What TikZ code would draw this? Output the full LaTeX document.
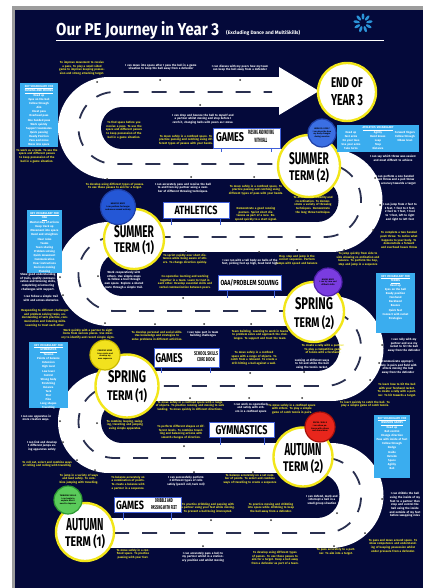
\documentclass[tikz,border=0pt]{standalone}
\usepackage{fontspec}
\setmainfont{Fira Sans}
\usepackage{graphicx}
\definecolor{navy}{HTML}{04093A}
\definecolor{ytext}{HTML}{EEE62E}
\definecolor{vocab}{HTML}{3AADEF}
\definecolor{lblue}{HTML}{3F5FD8}
\definecolor{dashc}{HTML}{2A3050}
\definecolor{ring}{HTML}{F2E619}
\definecolor{framec}{HTML}{9C9C9C}
\definecolor{logoc}{HTML}{2B93D8}
\definecolor{bblue}{HTML}{3B6FE3}
\definecolor{bblueD}{HTML}{1E3FA6}
\definecolor{bblue2}{HTML}{2457D6}
\definecolor{bpurple}{HTML}{7A3CE0}
\definecolor{bpurpleD}{HTML}{4E1FA8}
\definecolor{byellow}{HTML}{F2E21E}
\definecolor{byellowD}{HTML}{C9B800}
\definecolor{bred}{HTML}{E8261C}
\definecolor{bredD}{HTML}{A8120A}
\definecolor{bgreen}{HTML}{5ACB5A}
\definecolor{bgreenD}{HTML}{2E9A33}
\newcommand\tsz{\fontsize{2.9}{3.7}\selectfont\bfseries}
\newcommand\vsz{\fontsize{2.8}{4.1}\selectfont\bfseries}
\newcommand\bsz{\fontsize{2.1}{2.7}\selectfont\bfseries}
\newcommand\fitt[3]{\resizebox{#1pt}{#2pt}{\bfseries #3}}
\newcommand\fitsub[3]{\resizebox{#1pt}{#2pt}{\bfseries\begin{tabular}{@{}c@{}}#3\end{tabular}}}
\tikzset{
  yt/.style={text=ytext,font=\tsz,align=center,inner sep=0pt,text width=#1pt},
  wt/.style={text=white,font=\tsz,align=center,inner sep=0pt,text width=#1pt},
  vt/.style={text=white,font=\vsz,align=center,inner sep=0pt,text width=#1pt,anchor=north},
  vbox/.style={fill=vocab,inner sep=0pt,anchor=north west},
  termc/.style={circle,fill=white,draw=ring,line width=2.4pt,inner sep=0pt,minimum size=#1},
  termt/.style={anchor=base,inner sep=0pt,text=black},
  lbl/.style={draw=lblue,fill=white,line width=1.4pt,inner sep=0pt,anchor=north west},
  postline/.style={draw=lblue,line width=0.9pt},
  badge/.style={circle,line width=1.2pt,inner sep=0pt,minimum size=#1},
  bt/.style={text=black,font=\bsz,align=center,inner sep=0pt,text width=#1pt},
  rdot/.style={fill=black!80},
}
\begin{document}
\begin{tikzpicture}[x=1pt,y=-1pt]
\useasboundingbox (0,0) rectangle (423,588);
\fill[white] (0,0) rectangle (423,588);
\fill[framec] (12,6) rectangle (423,588);
\fill[navy] (15,10) rectangle (423,588);

% ---------- road: straights ----------
\fill[white] (109,77) rectangle (282,107);
\fill[white] (109,149) rectangle (331,179);
\fill[white] (109,222) rectangle (331,252);
\fill[white] (109,296) rectangle (331,326);
\fill[white] (109,371) rectangle (331,401);
\fill[white] (109,443) rectangle (331,473);
\fill[white] (85,518) rectangle (331,548);
% ---------- road: bends ----------
\fill[white] (109,128) circle[radius=51pt];
\fill[white] (331,200.5) circle[radius=51.5pt];
\fill[white] (109,274) circle[radius=52pt];
\fill[white] (331,348.5) circle[radius=52.5pt];
\fill[white] (109,422) circle[radius=51pt];
\fill[white] (331,495.5) circle[radius=52.5pt];
\fill[navy] (122,107) rectangle (317,149);
\fill[navy] (122,128) circle[radius=21pt];
\fill[navy] (122,179) rectangle (317,222);
\fill[navy] (317,200.5) circle[radius=21.5pt];
\fill[navy] (122,252) rectangle (317,296);
\fill[navy] (122,274) circle[radius=22pt];
\fill[navy] (122,326) rectangle (317,371);
\fill[navy] (317,348.5) circle[radius=22.5pt];
\fill[navy] (122,401) rectangle (317,443);
\fill[navy] (122,422) circle[radius=21pt];
\fill[navy] (122,473) rectangle (317,518);
\fill[navy] (317,495.5) circle[radius=22.5pt];
% arrow head
\fill[white] (279,67) -- (319,91) -- (279,115) -- cycle;
% centre dashes
\draw[dashc,line width=1.8pt,dash pattern=on 15pt off 13pt,rounded corners=36pt]
  (114,533) -- (361,533) -- (361,458) -- (78.5,458) -- (78.5,386) -- (361,386)
  -- (361,311) -- (78.5,311) -- (78.5,237) -- (361,237) -- (361,164)
  -- (78.5,164) -- (78.5,92) -- (272,92);
% small pins on the road edges
\foreach \p in {(97,82),(160,80),(240,80),(200,105),(191,177),(254,177),(107,179),
  (186,252),(259,252),(297,250),(344,250),(373,230),(380,205),(375,178),
  (183,298),(155,324),(204,324),(251,324),(98,276),(60,277),(63,295),
  (250,373),(190,398),(249,398),(382,345),(379,363),(370,380),(344,400),(302,398),(304,372),
  (184,446),(105,323),(60,421),(63,442),(97,423),(77,460),(95,470),
  (194,472),(253,472),(211,520),(271,520),(203,546),(382,499),(365,533),(334,546),(337,513)}
  \fill[rdot] \p circle[radius=1pt];

% ---------- title ----------
\node[anchor=base west,inner sep=0pt,text=white] (title) at (56,36) {\fitt{163}{14}{Our PE Journey in Year 3}};
\node[anchor=base west,inner sep=0pt,text=white] (subtitle) at (226,35) {\resizebox{74pt}{!}{\bfseries (Excluding Dance and MultiSkills)}};
\draw[white,line width=1.1pt] (56,40.5) -- (384,40.5);
% logo
\foreach \a in {0,40,...,320}
  \fill[logoc,rotate around={\a:(363,23)}] (363,16.5) ellipse[x radius=1.4pt,y radius=3.2pt];

% ---------- term circles ----------
\node[termc=58pt] (endc) at (347,92) {};
\node[termt] (endl1) at (347,88) {\fitt{32}{10}{END OF}};
\node[termt] (endl2) at (347,106) {\fitt{32}{11}{YEAR 3}};
\node[termc=62pt] (su2) at (309,166) {};
\node[termt] (su2a) at (309,164) {\fitt{40}{12}{SUMMER}};
\node[termt] (su2b) at (309,180) {\fitt{40}{12}{TERM (2)}};
\node[termc=60pt] (su1) at (134,239) {};
\node[termt] (su1a) at (134,237) {\fitt{40}{12}{SUMMER}};
\node[termt] (su1b) at (134,252) {\fitt{40}{12}{TERM (1)}};
\node[termc=60pt] (sp2) at (314,312) {};
\node[termt] (sp2a) at (314,309) {\fitt{38}{12}{SPRING}};
\node[termt] (sp2b) at (314,327) {\fitt{40}{12}{TERM (2)}};
\node[termc=63pt] (sp1) at (127,386) {};
\node[termt] (sp1a) at (127,382) {\fitt{38}{12}{SPRING}};
\node[termt] (sp1b) at (127,400) {\fitt{40}{12}{TERM (1)}};
\node[termc=59pt] (au2) at (303,457) {};
\node[termt] (au2a) at (303,455) {\fitt{37}{12}{AUTUMN}};
\node[termt] (au2b) at (303,471) {\fitt{40}{12}{TERM (2)}};
\node[termc=58pt] (au1) at (85,532) {};
\node[termt] (au1a) at (85,530) {\fitt{37}{12}{AUTUMN}};
\node[termt] (au1b) at (85,546) {\fitt{40}{12}{TERM (1)}};

% ---------- activity labels ----------
\node[lbl,minimum width=67pt,minimum height=20pt] (g1) at (213,128) {};
\node[termt] (g1t) at (230,142) {\fitt{28}{9}{GAMES}};
\node[inner sep=0pt] (g1s) at (261,137) {\fitsub{26}{9}{PASSING AND MOVING\\WITH BALL}};
\draw[postline] (221,148) -- (221,152);
\draw[postline] (271,148) -- (271,152);
\node[lbl,minimum width=66pt,minimum height=16pt] (ath) at (163,202) {};
\node[termt] (atht) at (196,214.5) {\fitt{43}{8.5}{ATHLETICS}};
\draw[postline] (171,218) -- (171,225);
\draw[postline] (220,218) -- (220,225);
\node[lbl,minimum width=63pt,minimum height=15pt] (oaa) at (218,275) {};
\node[termt] (oaat) at (249.5,285.5) {\fitt{58}{6}{OAA/PROBLEM SOLVING}};
\draw[postline] (227,290) -- (227,298);
\draw[postline] (274,290) -- (274,298);
\node[lbl,minimum width=65pt,minimum height=19pt] (g2) at (154,348) {};
\node[termt] (g2t) at (169,362) {\fitt{27}{9}{GAMES}};
\node[inner sep=0pt] (g2s) at (206,357) {\fitsub{24}{8}{SCHOOL SKILLS\\CORE BOOK}};
\draw[postline] (161,367) -- (161,373);
\draw[postline] (210,367) -- (210,373);
\node[lbl,minimum width=65pt,minimum height=15pt] (gym) at (209,422) {};
\node[termt] (gymt) at (241.5,434) {\fitt{52}{9}{GYMNASTICS}};
\draw[postline] (220,437) -- (220,445);
\draw[postline] (264,437) -- (264,445);
\node[lbl,minimum width=67pt,minimum height=15pt] (g3) at (114,497) {};
\node[termt] (g3t) at (130,509) {\fitt{28}{8.5}{GAMES}};
\node[inner sep=0pt] (g3s) at (164,504.5) {\fitsub{26}{8}{DRIBBLE AND\\PASSING WITH FEET}};
\draw[postline] (123,512) -- (123,520);
\draw[postline] (171,512) -- (171,520);

% ---------- badges ----------
\node[badge=28pt,fill=bblue,draw=bblueD] (b1) at (322,133) {};
\node[bt=21] (b1t) at (322,133) {HOW DO I FEEL?\\ I can describe how my body changes during exercise};
\node[badge=35pt,fill=bblue2,draw=bblueD] (b2) at (118,207) {};
\node[bt=26] (b2t) at (118,207) {HEALTHY BODY\\ I can perform for longer and move around actively};
\node[badge=28pt,fill=bpurple,draw=bpurpleD] (b3) at (328,282) {};
\node[bt=21] (b3t) at (328,282) {BRAVE BODY\\ I can try new and difficult skills};
\node[badge=30pt,fill=byellow,draw=byellowD] (b4) at (105,355) {};
\node[bt=22] (b4t) at (105,355) {CREATIVE MIND\\ I can create and develop my own sequence};
\node[badge=30pt,fill=bred,draw=bredD] (b5) at (320,427) {};
\node[bt=22] (b5t) at (320,427) {SOCIAL SKILLS\\ I can show patience with others and share ideas};
\node[badge=28pt,fill=bgreen,draw=bgreenD] (b6) at (68,500) {};
\node[bt=21] (b6t) at (68,500) {THINKING SKILLS\\ I can begin to explain what I need to improve};

% ---------- vocabulary boxes ----------
\node[vbox,minimum width=38pt,minimum height=64pt] (v1) at (20,83) {};
\node[vt=37] (v1t) at (39,85) {\underline{KEY VOCABULARY FOR}\\\underline{PASSING AND MOVING}\\Head up\\Eyes on the ball\\Follow through\\Aim\\Chest pass\\Overhead pass\\One handed pass\\Work quickly\\Support teammates\\Quick passing\\Ready Position\\Pass and move\\Move into space};
\node[vbox,minimum width=35pt,minimum height=63pt] (v2) at (27,210) {};
\node[vt=34] (v2t) at (44.5,212) {\underline{KEY VOCABULARY FOR}\\\underline{OAA}\\Mental map of actions\\Keep track up\\Movement into space\\Bend and straighten\\Clear rules\\Teams\\Team sharing\\Problem solving\\Quick movement\\Communication\\Clear instructions\\Decision making\\Planning};
\node[vbox,minimum width=39pt,minimum height=66pt] (v3) at (29,342) {};
\node[vt=38] (v3t) at (48.5,344) {\underline{KEY VOCABULARY FOR}\\\underline{GYMNASTICS}\\Tension\\Points of balance\\Extension\\High level\\Low level\\Control\\Strong body\\Stretching\\Balance\\Tuck\\Star\\Pike\\Long shapes\\Travelling};
\node[vbox,minimum width=82pt,minimum height=27pt] (v4) at (337,125) {};
\node[vt=80] (v4h) at (378,126.5) {\underline{ATHLETICS VOCABULARY}};
\node[vt=26] (v4a) at (351,131) {Head up\\Fast arms\\On your toes\\Use your arms\\Take turns};
\node[vt=26] (v4b) at (378,131) {Agility\\Bend knees\\Leap\\Step\\Distance};
\node[vt=26] (v4c) at (405,131) {Forward fingers\\Follow through\\Elbow level};
\node[vbox,minimum width=39pt,minimum height=60pt] (v5) at (376,273) {};
\node[vt=38] (v5t) at (395.5,275) {\underline{KEY VOCABULARY FOR}\\\underline{TENNIS}\\Head up\\Eyes on the ball\\Ready position\\Forehand\\Backhand\\Bounce\\Quick feet\\Connect with racket\\Strategies};
\node[vbox,minimum width=36pt,minimum height=63pt] (v6) at (374,415) {};
\node[vt=35] (v6t) at (392,417) {\underline{KEY VOCABULARY FOR}\\\underline{INVASION GAMES}\\Head up\\Ball control\\Change direction\\Pass with inside of foot\\Follow through\\Dodge\\Inside\\Outside\\Space\\Agility\\Ball};

% ---------- learning texts ----------
\node[yt=50] (t1) at (82,68) {To improve movement to receive a pass. To play a small sided game to improve keeping possession and strong attacking target.};
\node[wt=80] (t2) at (161,67) {I can move into space after I pass the ball in a game situation to keep the ball away from a defender};
\node[wt=58] (t3) at (240,68) {I can discuss with my peers how my team can keep the ball away from a defender};
\node[wt=80] (t4) at (203,119) {I can drop and bounce the ball to myself and a partner whilst moving and stop before I catch it, changing balls with peers as I move.};
\node[yt=44] (t5) at (124,130) {To find space before you receive a pass. To use the space and different passes to keep possession of the ball in a game situation.};
\node[yt=55] (t6) at (186,140) {To move safely in a confined space. To practice passing and catching using different types of passes with your hands.};
\node[yt=44] (t7) at (37,156) {To work as a team. To use the space and different passes to keep possession of the ball in a game situation.};
\node[yt=70] (t8) at (115,186) {To develop using different types of passes. To use these passes to aim for a target.};
\node[wt=62] (t9) at (183,188) {I can accurately pass and receive the ball to and from my partner using a number of different throwing techniques.};
\node[yt=55] (t10) at (256,190) {To move safely in a confined space. To practice passing and catching using different types of pass with your hands.};
\node[yt=52] (t11) at (256,214) {Demonstrate a good running posture. Sprint short distances as part of a race. Respond quickly to a start signal.};
\node[yt=48] (t12) at (313,205) {To demonstrate mobility and co-ordination. To demonstrate a variety of throwing techniques. Demonstrate the long throw technique.};
\node[wt=48] (t13) at (393,158) {I can say which throw was easiest and most difficult to achieve};
\node[wt=48] (t14) at (395,180) {I can perform a one handed push throw and a pull throw with accuracy towards a target};
\node[wt=38] (t15) at (400,212) {I can jump from 2 feet to 2 feet, 1 foot to 2 feet, 2 feet to 1 foot, 1 foot to 1 foot, left to right and right to left foot};
\node[yt=44] (t16) at (399,240) {To complete a two handed push throw. To notice what happens to your body. To demonstrate a forward and overhead heave throw};
\node[yt=46] (t17) at (358,259) {To jump quickly from side to side allowing co-ordination and balance. To perform the hop, step and jump in a sequence};
\node[yt=45] (t18) at (297,260) {Hop, step and jump in the correct sequence. Perform jumps with speed and balance};
\node[wt=58] (t19) at (250,262) {I can run with a tall body on balls of the feet, picking feet up high, head held high};
\node[yt=55] (t20) at (185,259) {To sprint rapidly over short distances while being aware of others. To change direction quickly.};
\node[yt=58] (t21) at (185,282) {Co-operative learning and working together in a team. Learn to trust in each other. Develop essential skills and verbal communication between peers.};
\node[wt=44] (t22) at (124,280) {Work cooperatively with others. Use simple maps to follow a trail through own space. Explore a shared route through a simple trail.};
\node[wt=45] (t23) at (38,282) {Show good understanding of trails, quality communication and listening skills, completing orienteering challenges with support.};
\node[wt=45] (t24) at (41,298) {I can follow a simple trail with and across obstacles};
\node[yt=52] (t25) at (45,318) {Responding to different challenges and problem solving tasks, understanding of safe practice, communication and listening skills. Learning to trust each other.};
\node[yt=62] (t26) at (88,334) {Work quickly with a partner to sight items from various places. Use memory to identify and record simple signs.};
\node[yt=52] (t27) at (157,336) {To develop personal and social skills. Use knowledge and strategies to solve problems in different activities.};
\node[wt=33] (t28) at (203,334) {I can take part in team building challenges};
\node[yt=66] (t29) at (260,335) {Team building. Learning to work in teams to problem solve and approach the challenges. To support and trust the team.};
\node[yt=56] (t30) at (254,358) {To move safely in a confined space with a range of objects. To catch from a rebound. To create a drill hitting a ball against a wall.};
\node[yt=44] (t31) at (323,349) {To create a rally with a partner. To play a competitive game of tennis with a forehand.};
\node[wt=50] (t32) at (312,364) {Looking at different ways to hit and strike the ball using the tennis racket.};
\node[wt=36] (t33) at (404,345) {I can rally with my partner and use my racket to hit the ball away from the defender};
\node[wt=46] (t34) at (398,367) {Communicate appropriately in pairs and field with others moving the ball away from the defender};
\node[yt=48] (t35) at (397,390) {To learn how to hit the ball with your forehand racket. To create a rally with a partner. To hit towards a target.};
\node[yt=55] (t36) at (365,404) {To react quickly to catch the ball. To play a simple game of catch tennis.};
\node[yt=50] (t37) at (292,409) {To move safely in a confined space with others. To play a simple game of catch tennis in pairs.};
\node[wt=42] (t38) at (251,408) {I can work co-operatively and safely with others in a confined space};
\node[yt=75] (t39) at (190,406) {To move safely in a confined space with a range of objects. To practice running and moving to safe landing. To move quickly in different directions.};
\node[yt=55] (t40) at (181,432) {To perform different shapes at different levels. To combine travelling and balancing actions with smooth changes of direction.};
\node[yt=46] (t41) at (125,425) {To combine leaping, swinging, travelling and jumping using simple apparatus.};
\node[wt=32] (t42) at (36,418) {I can use apparatus in more creative ways.};
\node[wt=35] (t43) at (42,446) {I can link and develop 3 different jumps using apparatus safely};
\node[yt=55] (t44) at (47,464) {To roll out, select and combine ways of rolling and rolling with travelling};
\node[yt=50] (t45) at (79,479) {To jump in a variety of ways and land safely. To combine jumping with travelling.};
\node[yt=34] (t46) at (128,483) {To balance accurately on a combination of points. To create a balance with a partner in a sequence.};
\node[wt=46] (t47) at (186,481) {I can successfully perform 2 different types of rolls safely (pencil roll, tuck roll)};
\node[yt=60] (t48) at (250,479) {To balance accurately on a set number of points. To select and combine ways of travelling to create a sequence};
\node[yt=55] (t49) at (208,508) {To practice dribbling and passing with a partner using your feet while moving. To prevent a ball being intercepted.};
\node[yt=55] (t50) at (271,508) {To practice moving and dribbling into space while dribbling to keep the ball away from a defender.};
\node[wt=38] (t51) at (322,500) {I can defend, mark and intercept a ball in a small group situation};
\node[wt=34] (t52) at (405,505) {I can dribble the ball using the inside of my foot to a partner then stop and control the ball using the inside and outside of my feet before swapping roles};
\node[yt=45] (t53) at (133,554) {To move safely in a confined space. To practise passing with your feet.};
\node[wt=60] (t54) at (203,557) {I can accurately pass a ball to my partner whilst in a stationary position and whilst moving};
\node[yt=52] (t55) at (275,558) {To develop using different types of passes. To use these passes to aim for a target. Keep a ball away from a defender as part of a team.};
\node[yt=55] (t56) at (336,552) {To pass accurately to a partner. To aim into a target.};
\node[yt=52] (t57) at (393,546) {To pass and move around space. To show competence and understanding of keeping possession whilst under pressure from a defender.};
\end{tikzpicture}
\end{document}
